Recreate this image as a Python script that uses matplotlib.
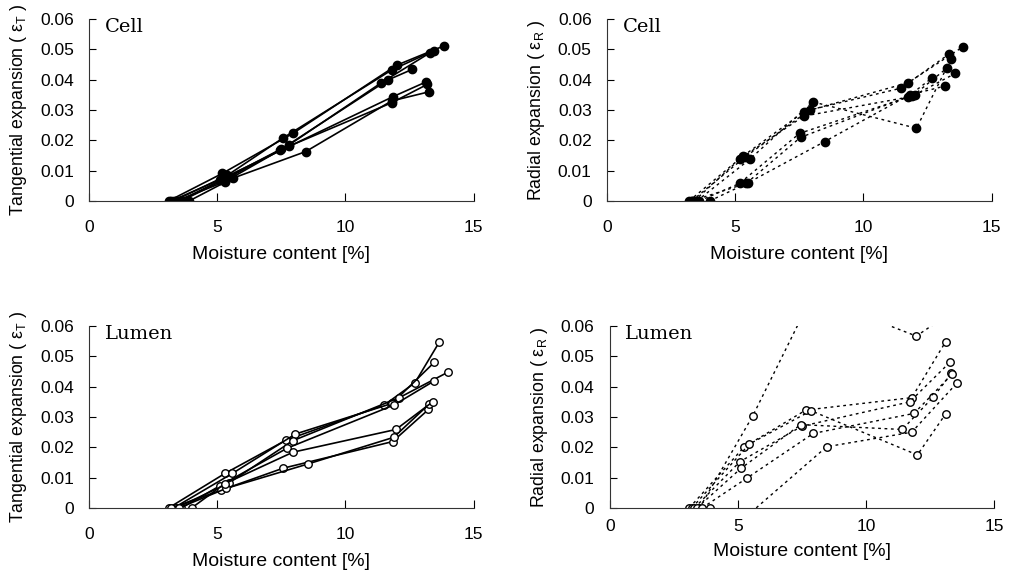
import matplotlib
matplotlib.use('Agg')
import matplotlib.pyplot as plt

# moisture content [%] and expansion for each specimen
cell_t_x = [[3.1, 5.2, 7.95, 12.0, 13.85],
            [3.3, 5.4, 7.55, 11.8, 13.45],
            [3.5, 5.3, 7.8, 11.4, 13.3],
            [3.6, 5.5, 7.45, 11.65, 12.6],
            [3.2, 5.1, 7.8, 11.85, 13.15],
            [3.4, 5.3, 7.5, 11.8, 13.2],
            [3.9, 5.6, 8.45, 11.8, 13.25]]
cell_t_y = [[0, 0.0091, 0.0223, 0.0448, 0.0512],
            [0, 0.0085, 0.0207, 0.0432, 0.0496],
            [0, 0.0075, 0.0185, 0.0390, 0.0489],
            [0, 0.0080, 0.0168, 0.0399, 0.0434],
            [0, 0.0070, 0.0180, 0.0344, 0.0393],
            [0, 0.0064, 0.0170, 0.0324, 0.0385],
            [0, 0.0075, 0.0163, 0.0330, 0.0360]]

cell_r_x = [[3.2, 5.3, 7.68, 11.74, 13.89],
            [3.3, 5.4, 7.9, 11.46, 13.33],
            [3.5, 5.56, 8.03, 12.07, 13.41],
            [3.4, 5.2, 7.68, 11.9, 13.28],
            [3.6, 5.17, 7.51, 12.0, 13.59],
            [3.3, 5.43, 7.55, 11.74, 12.66],
            [4.0, 5.5, 8.49, 11.8, 13.18]]
cell_r_y = [[0, 0.0148, 0.0294, 0.0390, 0.0509],
            [0, 0.0146, 0.0300, 0.0372, 0.0484],
            [0, 0.0137, 0.0327, 0.0240, 0.0467],
            [0, 0.0140, 0.0280, 0.0345, 0.0440],
            [0, 0.0058, 0.0223, 0.0350, 0.0421],
            [0, 0.0058, 0.0210, 0.0344, 0.0405],
            [0, 0.0060, 0.0196, 0.0350, 0.0379]]

lumen_t_x = [[3.1, 5.3, 7.69, 11.52, 12.71, 13.66],
             [3.3, 5.59, 8.05, 11.82, 13.46],
             [3.4, 5.46, 7.95, 12.1, 14.02],
             [3.6, 5.1, 7.72, 11.9, 13.46],
             [3.2, 5.16, 7.56, 11.84, 13.24],
             [3.5, 5.36, 8.53, 11.88, 13.27],
             [4.0, 5.29, 7.95, 11.97, 13.4]]
lumen_t_y = [[0, 0.0114, 0.0224, 0.0340, 0.0413, 0.0547],
             [0, 0.0114, 0.0244, 0.0345, 0.0480],
             [0, 0.0083, 0.0222, 0.0364, 0.0449],
             [0, 0.0073, 0.0197, 0.0340, 0.0419],
             [0, 0.0059, 0.0131, 0.0219, 0.0325],
             [0, 0.0065, 0.0145, 0.0233, 0.0343],
             [0, 0.0080, 0.0184, 0.0259, 0.0350]]

lumen_r_x = [[3.5, 5.58, 7.9, 11.96, 13.4],
             [3.1, 5.25, 7.65, 11.78, 13.1],
             [3.2, 5.45, 7.85, 12.0, 13.1],
             [3.3, 5.08, 7.5, 11.7, 13.26],
             [3.4, 5.12, 7.45, 11.41, 12.61, 13.33],
             [3.6, 5.34, 7.94, 11.87, 13.35],
             [3.9, 5.3, 8.46, 11.78, 13.53]]
lumen_r_y = [[0, 0.0304, 0.0700, 0.0567, 0.0650],
             [0, 0.0202, 0.0323, 0.0364, 0.0548],
             [0, 0.0211, 0.0321, 0.0175, 0.0310],
             [0, 0.0153, 0.0270, 0.0350, 0.0480],
             [0, 0.0131, 0.0275, 0.0259, 0.0365, 0.0444],
             [0, 0.0098, 0.0246, 0.0312, 0.0441],
             [0, -0.003, 0.0202, 0.0250, 0.0411]]

x_ticks = [0, 5, 10, 15]
y_ticks = [0, 0.01, 0.02, 0.03, 0.04, 0.05, 0.06]
y_tick_labels = ['0', '0.01', '0.02', '0.03', '0.04', '0.05', '0.06']

plt.rcParams['font.family'] = ['Liberation Sans', 'DejaVu Sans']
serif = ['DejaVu Serif']

fig = plt.figure(figsize=(10.12, 5.72), dpi=100)


def panel(pos, xs, ys, name, ylab, filled, dotted, xpad, xlab_y):
    ax = fig.add_axes(pos)
    for x, y in zip(xs, ys):
        ax.plot(x, y, color='black',
                linestyle=(0, (2, 2.6)) if dotted else '-',
                linewidth=1.0 if dotted else 1.2,
                marker='o', markersize=6 if filled else 5.4,
                markerfacecolor='black' if filled else 'white',
                markeredgecolor='black', markeredgewidth=1.0)
    ax.set_xlim(0, 15)
    ax.set_ylim(0, 0.06)
    ax.set_xticks(x_ticks)
    ax.set_xticklabels([str(t) for t in x_ticks], fontsize=12.5)
    ax.set_yticks(y_ticks)
    ax.set_yticklabels(y_tick_labels, fontsize=12.5)
    ax.tick_params(axis='x', direction='in', length=6, width=0.8, pad=xpad)
    ax.tick_params(axis='y', direction='in', length=5, width=0.8, pad=11)
    for s in ['top', 'right']:
        ax.spines[s].set_visible(False)
    for s in ['left', 'bottom']:
        ax.spines[s].set_linewidth(0.8)
        ax.spines[s].set_color('#333333')
    ax.set_xlabel('Moisture content [%]', fontsize=14)
    ax.xaxis.set_label_coords(0.5, xlab_y)
    ax.set_ylabel(ylab, fontsize=12.8)
    ax.yaxis.set_label_coords(-0.156, 0.5)
    ax.text(0.04, 0.958, name, transform=ax.transAxes, family=serif,
            fontsize=14, va='center', ha='left')
    return ax


lab_t = 'Tangential expansion ( ε$_{\\mathregular{T}}$ )'
lab_r = 'Radial expansion ( ε$_{\\mathregular{R}}$ )'

panel([0.088, 0.6486, 0.380, 0.318], cell_t_x, cell_t_y, 'Cell', lab_t,
      True, False, 14, -0.25)
panel([0.5998, 0.6486, 0.380, 0.318], cell_r_x, cell_r_y, 'Cell', lab_r,
      True, True, 14, -0.25)
panel([0.088, 0.1119, 0.380, 0.318], lumen_t_x, lumen_t_y, 'Lumen', lab_t,
      False, False, 14, -0.25)
panel([0.6025, 0.1119, 0.380, 0.318], lumen_r_x, lumen_r_y, 'Lumen', lab_r,
      False, True, 8, -0.195)

plt.savefig('out.png', dpi=100)
